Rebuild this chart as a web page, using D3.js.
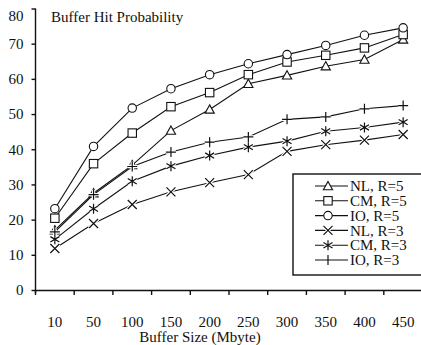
<!DOCTYPE html>
<html><head><meta charset="utf-8">
<script src="https://cdn.jsdelivr.net/npm/d3@7"></script>
<style>
html,body{margin:0;padding:0;background:#fff;}
svg{display:block;}
text{font-family:"Liberation Serif","Times New Roman",serif;fill:#111;}
</style></head>
<body>
<svg id="chart" width="421" height="345"></svg>
<script>
const categories = ["10","50","100","150","200","250","300","350","400","450"];
const seriesNames = ["NL, R=5","CM, R=5","IO, R=5","NL, R=3","CM, R=3","IO, R=3"];
const seriesMarkers = ["triangle","square","circle","x","asterisk","plus"];
const nl5 = [17.0, 27.5, 35.5, 45.3, 51.3, 58.6, 61.0, 63.6, 65.5, 71.2];
const cm5 = [20.4, 35.9, 44.6, 52.1, 56.1, 61.2, 64.8, 66.7, 68.8, 72.6];
const io5 = [23.1, 40.8, 51.7, 57.2, 61.2, 64.3, 66.9, 69.5, 72.4, 74.5];
const nl3 = [11.8, 18.9, 24.3, 27.9, 30.5, 32.8, 39.4, 41.3, 42.6, 44.2];
const cm3 = [14.4, 23.1, 30.9, 35.2, 38.2, 40.6, 42.3, 45.1, 46.2, 47.7];
const io3 = [16.5, 27.1, 35.1, 39.2, 42.0, 43.5, 48.5, 49.2, 51.5, 52.4];
const yTicks = [0,10,20,30,40,50,60,70,80];
const titleText = "Buffer Hit Probability";
const xTitle = "Buffer Size (Mbyte)";

const seriesValues = [nl5, cm5, io5, nl3, cm3, io3];
const svg = d3.select("#chart");
const FS = 15;

const x = d3.scaleBand().domain(categories).range([35.5, 422.5]).padding(0);
const y = d3.scaleLinear().domain([0, 80]).range([290, 8.5]);
const cx = c => x(c) + x.bandwidth() / 2;

// marker drawing
function drawMarker(g, type, px, py) {
  const s = 4.2;
  if (type === "circle") {
    g.append("circle").attr("cx", px).attr("cy", py).attr("r", s)
      .attr("fill", "#fff").attr("stroke", "#111").attr("stroke-width", 1.1);
  } else if (type === "square") {
    g.append("rect").attr("x", px - s).attr("y", py - s).attr("width", 2 * s).attr("height", 2 * s)
      .attr("fill", "#fff").attr("stroke", "#111").attr("stroke-width", 1.1);
  } else if (type === "triangle") {
    const h = 4.6;
    g.append("path").attr("d", `M${px},${py - h}L${px + h},${py + h * 0.8}L${px - h},${py + h * 0.8}Z`)
      .attr("fill", "#fff").attr("stroke", "#111").attr("stroke-width", 1.1);
  } else {
    let d;
    const r = 4.5;
    if (type === "x") d = `M${px - r},${py - r}L${px + r},${py + r}M${px - r},${py + r}L${px + r},${py - r}`;
    else if (type === "plus") d = `M${px - r - 0.5},${py}L${px + r + 0.5},${py}M${px},${py - r - 0.5}L${px},${py + r + 0.5}`;
    else d = `M${px},${py - r - 0.5}L${px},${py + r + 0.5}M${px - r},${py - r * 0.6}L${px + r},${py + r * 0.6}M${px - r},${py + r * 0.6}L${px + r},${py - r * 0.6}`;
    g.append("path").attr("d", d).attr("fill", "none").attr("stroke", "#fff").attr("stroke-width", 3.4);
    g.append("path").attr("d", d).attr("fill", "none").attr("stroke", "#111").attr("stroke-width", 1.2);
  }
}

// axes
const yAxis = d3.axisLeft(y).tickValues(yTicks).tickSize(4).tickSizeOuter(0).tickPadding(8);
const gy = svg.append("g").attr("transform", "translate(35.5,0)").call(yAxis);
gy.select(".domain").attr("stroke", "#111").attr("stroke-width", 1.4).attr("d", `M0,${y(0) + 3}V${y(80)}`);
gy.selectAll(".tick line").attr("stroke", "#111").attr("stroke-width", 1.4);
gy.selectAll(".tick text").style("font-size", FS + "px").attr("fill", "#111").attr("font-family", null);
gy.selectAll(".tick").filter(d => d === 80).select("text").attr("dy", "0.8em");

const xAxis = d3.axisBottom(x).tickSize(0).tickSizeOuter(0).tickPadding(26);
const gx = svg.append("g").attr("transform", `translate(0,${y(0)})`).call(xAxis);
gx.select(".domain").attr("stroke", "#111").attr("stroke-width", 1.4);
gx.selectAll(".tick text").style("font-size", FS + "px").attr("fill", "#111").attr("font-family", null);
gx.selectAll(".bound").data(categories).enter().append("line")
  .attr("x1", d => x(d)).attr("x2", d => x(d)).attr("y1", 0).attr("y2", 5)
  .attr("stroke", "#111").attr("stroke-width", 1.4);

// lines
const line = d3.line().x((d, i) => cx(categories[i])).y(d => y(d));
seriesValues.forEach((vals, si) => {
  svg.append("path").datum(vals).attr("d", line)
    .attr("fill", "none").attr("stroke", "#111").attr("stroke-width", 1.1);
});
seriesValues.forEach((vals, si) => {
  const g = svg.append("g");
  vals.forEach((v, i) => drawMarker(g, seriesMarkers[si], cx(categories[i]), y(v)));
});

// titles
svg.append("text").attr("x", 51).attr("y", 22).style("font-size", FS + "px").text(titleText);
svg.append("text").attr("x", 200).attr("y", 342).attr("text-anchor", "middle").style("font-size", FS + "px").text(xTitle);

// legend
const lg = svg.append("g");
lg.append("rect").attr("x", 293).attr("y", 174).attr("width", 132).attr("height", 101)
  .attr("fill", "#fff").attr("stroke", "#111").attr("stroke-width", 1.4);
seriesNames.forEach((name, i) => {
  const ly = 186 + i * 14.8;
  lg.append("line").attr("x1", 315).attr("x2", 348).attr("y1", ly).attr("y2", ly)
    .attr("stroke", "#111").attr("stroke-width", 1.1);
  drawMarker(lg, seriesMarkers[i], 328, ly);
  lg.append("text").attr("x", 350).attr("y", ly).attr("dy", "0.35em").style("font-size", FS + "px").text(name);
});
</script>
</body></html>
